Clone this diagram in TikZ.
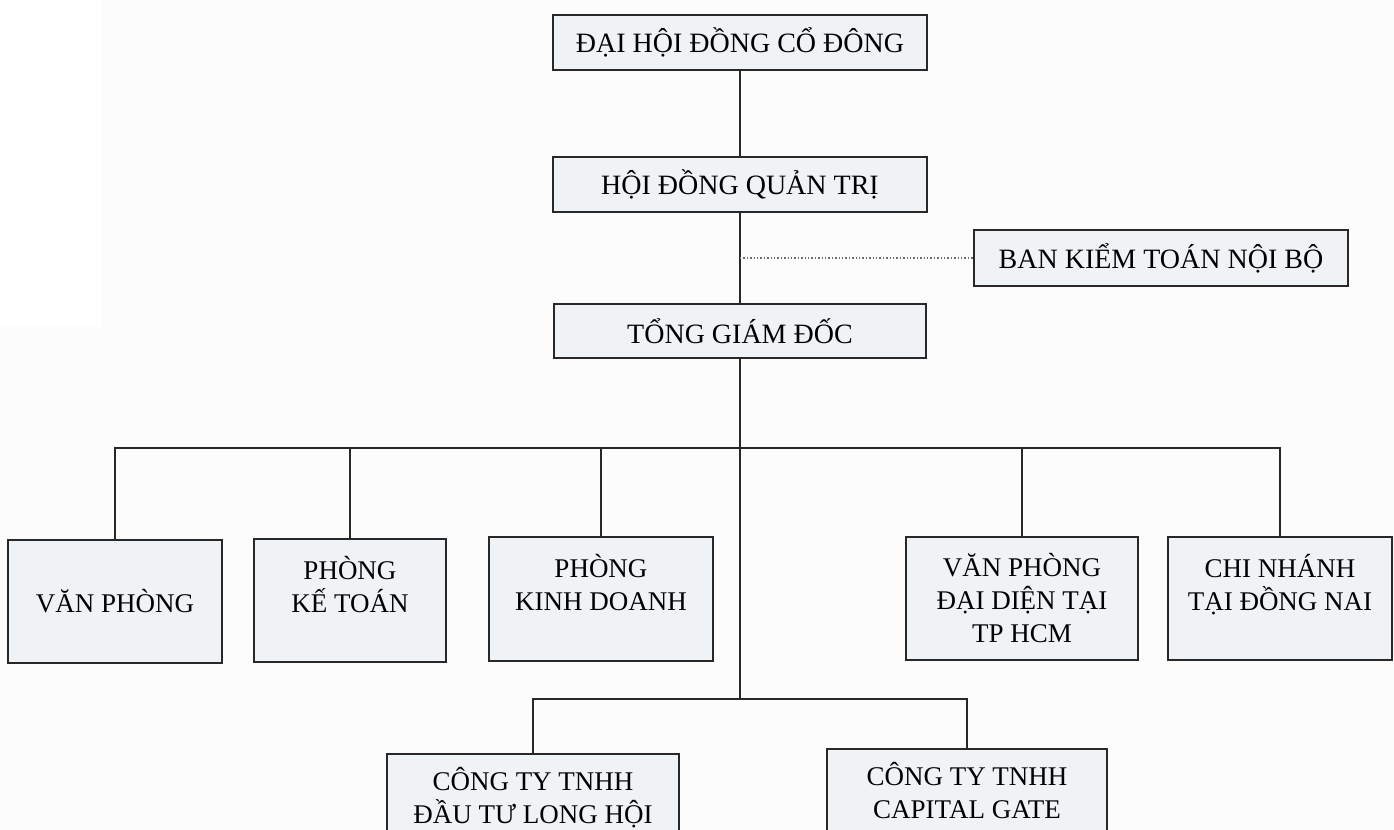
\documentclass[tikz,border=0pt]{standalone}
\usepackage{fontspec}
\setmainfont{Liberation Serif}
\usepackage{tikz}
\usetikzlibrary{positioning}
\definecolor{boxfill}{RGB}{240,243,246}
\definecolor{paper}{RGB}{252,252,252}
\definecolor{ink}{RGB}{40,40,40}
\tikzstyle{unit} = [draw=ink, line width=1pt, fill=boxfill, inner sep=0mm, align=center, font=\fontsize{14}{17}\selectfont]
\tikzstyle{dept} = [unit, font=\fontsize{13.5}{16.5}\selectfont]
\tikzstyle{l} = [draw=ink, line width=1pt]
\tikzstyle{dl} = [densely dotted, gray!85!black, line width=0.7pt]

\begin{document}
\begin{tikzpicture}[x=0.5pt, y=-0.5pt]
                \useasboundingbox (0,0) rectangle (1394,830);
                \clip (0,0) rectangle (1394,830);
                \fill[paper] (0,0) rectangle (1394,830);
                \fill[white] (0,0) rectangle (101,327);

                % top of the chart
                \node[unit, minimum width=187pt, minimum height=27.5pt] (dhcd) at (740,42) {ĐẠI HỘI ĐỒNG CỔ ĐÔNG};
                \node[unit, minimum width=187pt, minimum height=27.5pt] (hdqt) at (740,184) {HỘI ĐỒNG QUẢN TRỊ};
                \node[unit, minimum width=187pt, minimum height=28pt] (bktnb) at (1161,258) {BAN KIỂM TOÁN NỘI BỘ};
                \node[unit, minimum width=186pt, minimum height=27pt] (tgd) at (740,331) {TỔNG GIÁM ĐỐC};

                % departments
                \node[dept, minimum width=107pt, minimum height=61.5pt] (vp) at (115,601.5) {VĂN PHÒNG};
                \node[dept, minimum width=96pt, minimum height=61.5pt] (pkt) at (350,600.5) {PHÒNG\\KẾ TOÁN\\~};
                \node[dept, minimum width=112pt, minimum height=62pt] (pkd) at (601,599) {PHÒNG\\KINH DOANH\\~};
                \node[dept, minimum width=116pt, minimum height=61.5pt] (vpdd) at (1022,598.5) {VĂN PHÒNG\\ĐẠI DIỆN TẠI\\TP HCM};
                \node[dept, minimum width=112pt, minimum height=61.5pt] (cn) at (1280,598.5) {CHI NHÁNH\\TẠI ĐỒNG NAI\\~};

                % subsidiaries (cut by the lower edge)
                \node[dept, minimum width=146pt, minimum height=58pt] (lh) at (533,812) {CÔNG TY TNHH\\ĐẦU TƯ LONG HỘI\\~};
                \node[dept, minimum width=140pt, minimum height=58pt] (cg) at (967,807) {CÔNG TY TNHH\\CAPITAL GATE\\~};

                \coordinate (kt) at (hdqt.south |- bktnb.west);
                \coordinate (bus) at (740,448);
                \coordinate (sub) at (740,699);

                \foreach \f/\t in {dhcd.south/hdqt.north, hdqt.south/tgd.north, tgd.south/sub}
                \draw[l] (\f) -- (\t);
                \draw[dl] (kt) -- (bktnb.west);

                \foreach \n in {vp, pkt, pkd, vpdd, cn}
                \draw[l] (\n.north) |- (bus);
                \foreach \n in {lh, cg}
                \draw[l] (\n.north) |- (sub);
            \end{tikzpicture}
\end{document}
